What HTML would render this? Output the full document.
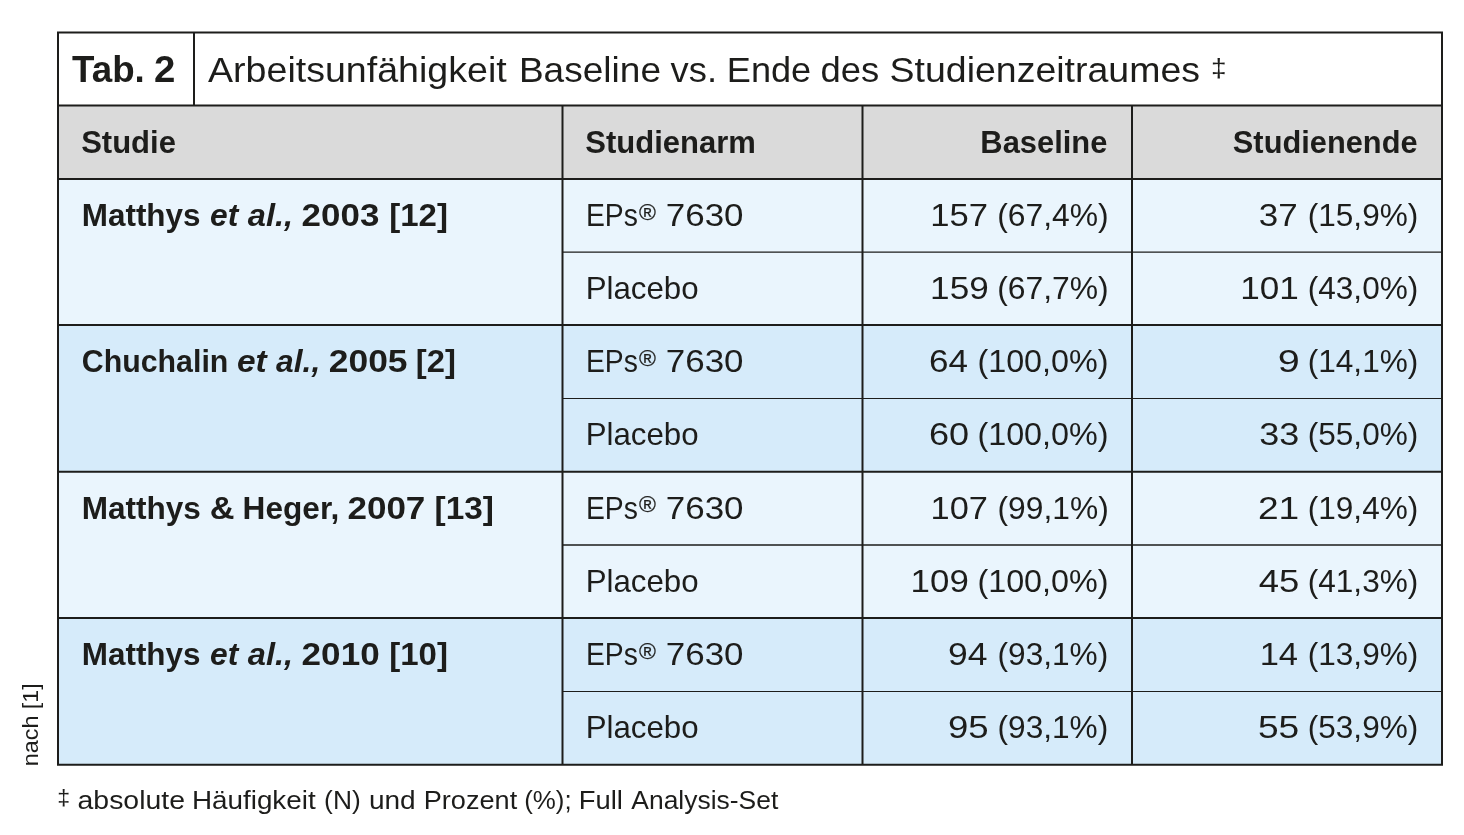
<!DOCTYPE html>
<html><head><meta charset="utf-8"><title>Tab. 2</title><style>
html,body{margin:0;padding:0;background:#fff;width:1464px;height:835px;overflow:hidden}
svg{display:block;will-change:transform}
svg text{font-family:"Liberation Sans", sans-serif;white-space:pre}
</style></head><body>
<svg width="1464" height="835" viewBox="0 0 1464 835">
<rect x="58.0" y="32.45" width="1384.0" height="73.14999999999999" fill="#ffffff"/><rect x="58.0" y="105.6" width="1384.0" height="73.4" fill="#dadada"/><rect x="58.0" y="179.0" width="1384.0" height="146.10000000000002" fill="#eaf5fd"/><rect x="58.0" y="325.1" width="1384.0" height="146.59999999999997" fill="#d6ebfa"/><rect x="58.0" y="471.7" width="1384.0" height="146.3" fill="#eaf5fd"/><rect x="58.0" y="618.0" width="1384.0" height="146.75" fill="#d6ebfa"/><path d="M57.00 31.45h1386.00v2.00h-1386.00zM57.00 104.60h1386.00v2.00h-1386.00zM57.00 178.00h1386.00v2.00h-1386.00zM562.50 251.45h879.50v1.30h-879.50zM57.00 324.10h1386.00v2.00h-1386.00zM562.50 397.98h879.50v1.05h-879.50zM57.00 470.70h1386.00v2.00h-1386.00zM562.50 544.35h879.50v1.30h-879.50zM57.00 617.00h1386.00v2.00h-1386.00zM562.50 690.98h879.50v1.05h-879.50zM57.00 763.65h1386.00v2.20h-1386.00zM57.00 31.45h2.00v734.30h-2.00zM1441.00 31.45h2.00v734.30h-2.00zM193.00 32.45h2.00v73.15h-2.00zM561.50 105.60h2.00v659.15h-2.00zM861.50 105.60h2.00v659.15h-2.00zM1131.00 105.60h2.00v659.15h-2.00z" fill="#1d1d1b"/><g fill="#1d1d1b"><text transform="translate(72.00,81.90) scale(0.9722,1.0000)" font-size="37.8"><tspan font-weight="bold" font-style="normal">Tab.</tspan></text><text transform="translate(153.98,81.90) scale(1.0158,1.0000)" font-size="37.8"><tspan font-weight="bold" font-style="normal">2</tspan></text><text transform="translate(208.00,81.90) scale(1.0441,0.9650)" font-size="36"><tspan font-weight="normal" font-style="normal">Arbeitsunfähigkeit</tspan></text><text transform="translate(518.91,81.90) scale(1.0293,0.9650)" font-size="36"><tspan font-weight="normal" font-style="normal">Baseline</tspan></text><text transform="translate(670.60,81.90) scale(1.0093,0.9650)" font-size="36"><tspan font-weight="normal" font-style="normal">vs.</tspan></text><text transform="translate(726.79,81.90) scale(1.0038,0.9650)" font-size="36"><tspan font-weight="normal" font-style="normal">Ende</tspan></text><text transform="translate(820.47,81.90) scale(1.0127,0.9650)" font-size="36"><tspan font-weight="normal" font-style="normal">des</tspan></text><text transform="translate(889.62,81.90) scale(1.0414,0.9650)" font-size="36"><tspan font-weight="normal" font-style="normal">Studienzeitraumes</tspan></text><text transform="translate(1211.05,76.80) scale(0.7750,0.7333)" font-size="36"><tspan font-weight="normal" font-style="normal">‡</tspan></text><text transform="translate(81.13,152.80) scale(0.9698,1.0000)" font-size="32"><tspan font-weight="bold" font-style="normal">Studie</tspan></text><text transform="translate(585.33,152.80) scale(0.9694,1.0000)" font-size="32"><tspan font-weight="bold" font-style="normal">Studienarm</tspan></text><text transform="translate(980.37,152.80) scale(0.9659,1.0000)" font-size="32"><tspan font-weight="bold" font-style="normal">Baseline</tspan></text><text transform="translate(1232.84,152.80) scale(0.9626,1.0000)" font-size="32"><tspan font-weight="bold" font-style="normal">Studienende</tspan></text><text transform="translate(81.73,226.00) scale(0.9831,1.0000)" font-size="32"><tspan font-weight="bold" font-style="normal">Matthys</tspan></text><text transform="translate(210.01,226.00) scale(0.9929,1.0000)" font-size="32"><tspan font-weight="bold" font-style="italic">et</tspan></text><text transform="translate(247.80,226.00) scale(1.0190,1.0000)" font-size="32"><tspan font-weight="bold" font-style="italic">al.,</tspan></text><text transform="translate(301.61,226.00) scale(1.0928,1.0000)" font-size="32"><tspan font-weight="bold" font-style="normal">2003</tspan></text><text transform="translate(389.24,226.00) scale(1.0321,1.0000)" font-size="32"><tspan font-weight="bold" font-style="normal">[12]</tspan></text><text transform="translate(81.85,372.28) scale(0.9474,1.0000)" font-size="32"><tspan font-weight="bold" font-style="normal">Chuchalin</tspan></text><text transform="translate(236.95,372.28) scale(1.0464,1.0000)" font-size="32"><tspan font-weight="bold" font-style="italic">et</tspan></text><text transform="translate(276.10,372.28) scale(0.9929,1.0000)" font-size="32"><tspan font-weight="bold" font-style="italic">al.,</tspan></text><text transform="translate(328.69,372.28) scale(1.1087,1.0000)" font-size="32"><tspan font-weight="bold" font-style="normal">2005</tspan></text><text transform="translate(415.75,372.28) scale(1.0257,1.0000)" font-size="32"><tspan font-weight="bold" font-style="normal">[2]</tspan></text><text transform="translate(81.73,518.56) scale(0.9856,1.0000)" font-size="32"><tspan font-weight="bold" font-style="normal">Matthys</tspan></text><text transform="translate(209.73,518.56) scale(1.0714,1.0000)" font-size="32"><tspan font-weight="bold" font-style="normal">&amp;</tspan></text><text transform="translate(242.62,518.56) scale(0.9883,1.0000)" font-size="32"><tspan font-weight="bold" font-style="normal">Heger,</tspan></text><text transform="translate(347.40,518.56) scale(1.0957,1.0000)" font-size="32"><tspan font-weight="bold" font-style="normal">2007</tspan></text><text transform="translate(434.61,518.56) scale(1.0434,1.0000)" font-size="32"><tspan font-weight="bold" font-style="normal">[13]</tspan></text><text transform="translate(81.73,664.84) scale(0.9831,1.0000)" font-size="32"><tspan font-weight="bold" font-style="normal">Matthys</tspan></text><text transform="translate(210.01,664.84) scale(0.9929,1.0000)" font-size="32"><tspan font-weight="bold" font-style="italic">et</tspan></text><text transform="translate(247.80,664.84) scale(1.0190,1.0000)" font-size="32"><tspan font-weight="bold" font-style="italic">al.,</tspan></text><text transform="translate(301.60,664.84) scale(1.0971,1.0000)" font-size="32"><tspan font-weight="bold" font-style="normal">2010</tspan></text><text transform="translate(389.24,664.84) scale(1.0321,1.0000)" font-size="32"><tspan font-weight="bold" font-style="normal">[10]</tspan></text><text transform="translate(585.94,226.00) scale(0.8855,1.0000)" font-size="32"><tspan font-weight="normal" font-style="normal">EPs</tspan></text><text transform="translate(638.88,219.70) scale(0.7182,0.7091)" font-size="32" stroke="#1d1d1b" stroke-width="0.35"><tspan font-weight="normal" font-style="normal">®</tspan></text><text transform="translate(665.81,226.00) scale(1.0926,1.0000)" font-size="32"><tspan font-weight="normal" font-style="normal">7630</tspan></text><text transform="translate(585.67,299.14) scale(0.9766,1.0000)" font-size="32"><tspan font-weight="normal" font-style="normal">Placebo</tspan></text><text transform="translate(585.94,372.28) scale(0.8855,1.0000)" font-size="32"><tspan font-weight="normal" font-style="normal">EPs</tspan></text><text transform="translate(638.88,365.98) scale(0.7182,0.7091)" font-size="32" stroke="#1d1d1b" stroke-width="0.35"><tspan font-weight="normal" font-style="normal">®</tspan></text><text transform="translate(665.81,372.28) scale(1.0926,1.0000)" font-size="32"><tspan font-weight="normal" font-style="normal">7630</tspan></text><text transform="translate(585.67,445.42) scale(0.9766,1.0000)" font-size="32"><tspan font-weight="normal" font-style="normal">Placebo</tspan></text><text transform="translate(585.94,518.56) scale(0.8855,1.0000)" font-size="32"><tspan font-weight="normal" font-style="normal">EPs</tspan></text><text transform="translate(638.88,512.26) scale(0.7182,0.7091)" font-size="32" stroke="#1d1d1b" stroke-width="0.35"><tspan font-weight="normal" font-style="normal">®</tspan></text><text transform="translate(665.81,518.56) scale(1.0926,1.0000)" font-size="32"><tspan font-weight="normal" font-style="normal">7630</tspan></text><text transform="translate(585.67,591.70) scale(0.9766,1.0000)" font-size="32"><tspan font-weight="normal" font-style="normal">Placebo</tspan></text><text transform="translate(585.94,664.84) scale(0.8855,1.0000)" font-size="32"><tspan font-weight="normal" font-style="normal">EPs</tspan></text><text transform="translate(638.88,658.54) scale(0.7182,0.7091)" font-size="32" stroke="#1d1d1b" stroke-width="0.35"><tspan font-weight="normal" font-style="normal">®</tspan></text><text transform="translate(665.81,664.84) scale(1.0926,1.0000)" font-size="32"><tspan font-weight="normal" font-style="normal">7630</tspan></text><text transform="translate(585.67,737.98) scale(0.9766,1.0000)" font-size="32"><tspan font-weight="normal" font-style="normal">Placebo</tspan></text><text transform="translate(930.14,226.00) scale(1.0820,1.0000)" font-size="32"><tspan font-weight="normal" font-style="normal">157</tspan></text><text transform="translate(997.21,226.00) scale(0.9954,1.0000)" font-size="32"><tspan font-weight="normal" font-style="normal">(67,4%)</tspan></text><text transform="translate(1258.71,226.00) scale(1.0939,1.0000)" font-size="32"><tspan font-weight="normal" font-style="normal">37</tspan></text><text transform="translate(1307.73,226.00) scale(0.9870,1.0000)" font-size="32"><tspan font-weight="normal" font-style="normal">(15,9%)</tspan></text><text transform="translate(930.10,299.14) scale(1.0980,1.0000)" font-size="32"><tspan font-weight="normal" font-style="normal">159</tspan></text><text transform="translate(997.21,299.14) scale(0.9954,1.0000)" font-size="32"><tspan font-weight="normal" font-style="normal">(67,7%)</tspan></text><text transform="translate(1240.30,299.14) scale(1.0980,1.0000)" font-size="32"><tspan font-weight="normal" font-style="normal">101</tspan></text><text transform="translate(1307.73,299.14) scale(0.9870,1.0000)" font-size="32"><tspan font-weight="normal" font-style="normal">(43,0%)</tspan></text><text transform="translate(929.01,372.28) scale(1.0939,1.0000)" font-size="32"><tspan font-weight="normal" font-style="normal">64</tspan></text><text transform="translate(977.38,372.28) scale(1.0111,1.0000)" font-size="32"><tspan font-weight="normal" font-style="normal">(100,0%)</tspan></text><text transform="translate(1277.63,372.28) scale(1.2357,1.0000)" font-size="32"><tspan font-weight="normal" font-style="normal">9</tspan></text><text transform="translate(1307.73,372.28) scale(0.9870,1.0000)" font-size="32"><tspan font-weight="normal" font-style="normal">(14,1%)</tspan></text><text transform="translate(928.94,445.42) scale(1.1281,1.0000)" font-size="32"><tspan font-weight="normal" font-style="normal">60</tspan></text><text transform="translate(977.38,445.42) scale(1.0111,1.0000)" font-size="32"><tspan font-weight="normal" font-style="normal">(100,0%)</tspan></text><text transform="translate(1259.18,445.42) scale(1.1242,1.0000)" font-size="32"><tspan font-weight="normal" font-style="normal">33</tspan></text><text transform="translate(1307.73,445.42) scale(0.9870,1.0000)" font-size="32"><tspan font-weight="normal" font-style="normal">(55,0%)</tspan></text><text transform="translate(930.55,518.56) scale(1.0740,1.0000)" font-size="32"><tspan font-weight="normal" font-style="normal">107</tspan></text><text transform="translate(997.51,518.56) scale(0.9926,1.0000)" font-size="32"><tspan font-weight="normal" font-style="normal">(99,1%)</tspan></text><text transform="translate(1257.98,518.56) scale(1.1594,1.0000)" font-size="32"><tspan font-weight="normal" font-style="normal">21</tspan></text><text transform="translate(1307.73,518.56) scale(0.9870,1.0000)" font-size="32"><tspan font-weight="normal" font-style="normal">(19,4%)</tspan></text><text transform="translate(910.62,591.70) scale(1.0900,1.0000)" font-size="32"><tspan font-weight="normal" font-style="normal">109</tspan></text><text transform="translate(977.38,591.70) scale(1.0111,1.0000)" font-size="32"><tspan font-weight="normal" font-style="normal">(100,0%)</tspan></text><text transform="translate(1258.66,591.70) scale(1.1394,1.0000)" font-size="32"><tspan font-weight="normal" font-style="normal">45</tspan></text><text transform="translate(1307.73,591.70) scale(0.9870,1.0000)" font-size="32"><tspan font-weight="normal" font-style="normal">(41,3%)</tspan></text><text transform="translate(948.08,664.84) scale(1.1091,1.0000)" font-size="32"><tspan font-weight="normal" font-style="normal">94</tspan></text><text transform="translate(997.52,664.84) scale(0.9889,1.0000)" font-size="32"><tspan font-weight="normal" font-style="normal">(93,1%)</tspan></text><text transform="translate(1259.64,664.84) scale(1.0788,1.0000)" font-size="32"><tspan font-weight="normal" font-style="normal">14</tspan></text><text transform="translate(1307.73,664.84) scale(0.9870,1.0000)" font-size="32"><tspan font-weight="normal" font-style="normal">(13,9%)</tspan></text><text transform="translate(948.01,737.98) scale(1.1438,1.0000)" font-size="32"><tspan font-weight="normal" font-style="normal">95</tspan></text><text transform="translate(997.52,737.98) scale(0.9889,1.0000)" font-size="32"><tspan font-weight="normal" font-style="normal">(93,1%)</tspan></text><text transform="translate(1257.98,737.98) scale(1.1594,1.0000)" font-size="32"><tspan font-weight="normal" font-style="normal">55</tspan></text><text transform="translate(1307.73,737.98) scale(0.9870,1.0000)" font-size="32"><tspan font-weight="normal" font-style="normal">(53,9%)</tspan></text><text transform="translate(57.35,805.10) scale(0.8727,0.8476)" font-size="26.5"><tspan font-weight="normal" font-style="normal">‡</tspan></text><text transform="translate(77.53,808.80) scale(1.0724,1.0000)" font-size="26.5"><tspan font-weight="normal" font-style="normal">absolute</tspan></text><text transform="translate(191.90,808.80) scale(1.0509,1.0000)" font-size="26.5"><tspan font-weight="normal" font-style="normal">Häufigkeit</tspan></text><text transform="translate(324.11,808.80) scale(0.9939,1.0000)" font-size="26.5"><tspan font-weight="normal" font-style="normal">(N)</tspan></text><text transform="translate(368.88,808.80) scale(1.0585,1.0000)" font-size="26.5"><tspan font-weight="normal" font-style="normal">und</tspan></text><text transform="translate(423.65,808.80) scale(1.0247,1.0000)" font-size="26.5"><tspan font-weight="normal" font-style="normal">Prozent</tspan></text><text transform="translate(524.15,808.80) scale(0.9773,1.0000)" font-size="26.5"><tspan font-weight="normal" font-style="normal">(%);</tspan></text><text transform="translate(578.73,808.80) scale(1.0333,1.0000)" font-size="26.5"><tspan font-weight="normal" font-style="normal">Full</tspan></text><text transform="translate(631.30,808.80) scale(0.9980,1.0000)" font-size="26.5"><tspan font-weight="normal" font-style="normal">Analysis-Set</tspan></text><text transform="translate(37.70,766.21) rotate(-90) scale(1.1111,1.0333)" font-size="21"><tspan font-weight="normal" font-style="normal">nach [1]</tspan></text></g>
</svg>
</body></html>
